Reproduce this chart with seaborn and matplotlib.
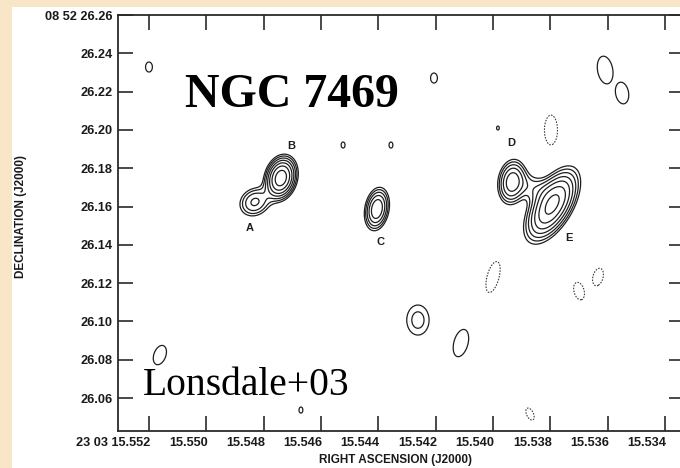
import numpy as np
import pandas as pd
import matplotlib
matplotlib.use("Agg")
import matplotlib.pyplot as plt
from matplotlib.patches import Rectangle
from matplotlib.transforms import ScaledTranslation
import seaborn as sns

# ---------------- data ----------------
# Components of the radio map (RA in s of 23 03, Dec in arcsec of 08 52)
comp_name = ["B", "A", "C", "D", "E", "bridgeDE",
             "p1", "p2", "p3", "p4", "p5", "p6", "p7",
             "n1", "n2", "n3", "n4", "n5",
             "t1", "t2", "t3", "t4"]
comp_ra = [15.54740, 15.54831, 15.54405, 15.53934, 15.53794, 15.53860,
           15.55200, 15.54206, 15.53609, 15.53550, 15.55162, 15.54262, 15.54112,
           15.53798, 15.54000, 15.53700, 15.53634, 15.53871,
           15.54523, 15.54356, 15.53983, 15.54670]
comp_dec = [26.17488, 26.16235, 26.15870, 26.17280, 26.16078, 26.16966,
            26.23285, 26.22710, 26.23128, 26.21927, 26.08245, 26.10073, 26.08872,
            26.19995, 26.12319, 26.11587, 26.12319, 26.05164,
            26.19211, 26.19211, 26.20099, 26.05373]
comp_amp = [12.0, 3.3, 6.2, 5.5, 10.5, 1.6,
            1.4, 1.4, 1.4, 1.4, 1.4, 1.7, 1.4,
            -1.4, -1.4, -1.4, -1.4, -1.4,
            1.4, 1.4, 1.4, 1.4]
comp_smaj = [5.7, 5.2, 6.0, 6.4, 10.5, 7.3,
             2.8, 2.8, 7.8, 6.1, 5.6, 7.6, 7.8,
             8.3, 8.9, 5.0, 5.0, 3.6,
             1.7, 1.7, 1.1, 1.7]          # mas
comp_smin = [3.9, 4.4, 3.3, 3.9, 5.0, 4.7,
             1.9, 1.9, 4.2, 3.6, 3.3, 5.6, 3.9,
             3.6, 3.3, 2.8, 2.8, 1.9,
             1.1, 1.1, 0.8, 1.1]          # mas
comp_pa = [-15, -55, -10, -8, -30, 64,
           0, 0, 10, 10, -20, 0, -15,
           0, -15, 15, -15, 25,
           0, 0, 0, 0]                     # deg, east of north
comp_expo = [1, 1, 1, 1, 1, 1,
             3, 3, 3, 3, 3, 1, 3,
             3, 3, 3, 3, 3,
             3, 3, 3, 3]                   # profile exponent (1 = Gaussian)

pos_levels = [1.0, 1.45, 2.1, 3.05, 4.4, 6.4, 9.3]
neg_levels = [-1.0]

src_labels = ["A", "B", "C", "D", "E"]
src_label_ra = [15.54848, 15.54705, 15.54394, 15.53937, 15.53735]
src_label_dec = [26.14877, 26.19159, 26.14146, 26.19316, 26.14355]

xticks = [15.552, 15.550, 15.548, 15.546, 15.544, 15.542, 15.540, 15.538, 15.536, 15.534]
xticklabels = ["23 03 15.552", "15.550", "15.548", "15.546", "15.544", "15.542",
               "15.540", "15.538", "15.536", "15.534"]
yticks = [26.06, 26.08, 26.10, 26.12, 26.14, 26.16, 26.18, 26.20, 26.22, 26.24, 26.26]
yticklabels = ["26.06", "26.08", "26.10", "26.12", "26.14", "26.16", "26.18",
               "26.20", "26.22", "26.24", "08 52 26.26"]

comps = pd.DataFrame(dict(name=comp_name, ra=comp_ra, dec=comp_dec, amp=comp_amp,
                          smaj=comp_smaj, smin=comp_smin, pa=comp_pa, expo=comp_expo))

# ---------------- style ----------------
sns.set_theme(style="ticks")
plt.rcParams["font.family"] = ["Liberation Sans", "DejaVu Sans"]

W, H = 680, 468
fig = plt.figure(figsize=(W / 100, H / 100), dpi=100)
fig.patch.set_facecolor("#f8e6c6")
fig.add_artist(Rectangle((12 / W, 0), 1 - 12 / W, (H - 7) / H, transform=fig.transFigure,
                         facecolor="white", edgecolor="none", zorder=0))

ax = fig.add_axes([118 / W, 37 / H, 566 / W, 416 / H])
ax.set_facecolor("white")

xlim = (15.55308, 15.53334)
ylim = (26.0428, 26.26001)

# field
ra_g = np.linspace(xlim[1], xlim[0], 900)
dec_g = np.linspace(ylim[0], ylim[1], 660)
RA, DEC = np.meshgrid(ra_g, dec_g)
cosd = np.cos(np.deg2rad(8 + 52 / 60 + 26.2 / 3600))
Z = np.zeros_like(RA)
for i in range(len(comps)):
    c = comps.iloc[i]
    dx = (RA - c["ra"]) * 15 * cosd * 1000.0   # mas, east positive
    dy = (DEC - c["dec"]) * 1000.0             # mas, north positive
    t = np.deg2rad(c["pa"])
    u = dx * np.sin(t) + dy * np.cos(t)
    v = dx * np.cos(t) - dy * np.sin(t)
    q = (u / c["smaj"]) ** 2 + (v / c["smin"]) ** 2
    Z += c["amp"] * np.exp(-0.5 * q ** float(c["expo"]))

ax.contour(RA, DEC, Z, levels=pos_levels, colors="#1e1e1e", linewidths=0.9,
           linestyles="solid")
ax.contour(RA, DEC, Z, levels=neg_levels, colors="#3a3a3a", linewidths=0.8,
           linestyles=[(0, (1.4, 1.2))])

for lab, x, y in zip(src_labels, src_label_ra, src_label_dec):
    ax.text(x, y, lab, ha="center", va="center", fontsize=8, fontweight="bold",
            color="#1e1e1e")

ax.set_xlim(*xlim)
ax.set_ylim(*ylim)
ax.set_xticks(xticks)
ax.set_xticklabels(xticklabels)
ax.set_yticks(yticks)
ax.set_yticklabels(yticklabels)
ax.tick_params(axis="both", direction="in", length=11, width=1.2, color="#2a2a2a",
               top=True, right=True, labelsize=9.2, labelcolor="#1a1a1a", pad=4)
shift = ScaledTranslation(1.5 / 100, 0, fig.dpi_scale_trans)
for lab in ax.get_xticklabels():
    lab.set_fontweight("bold")
    lab.set_horizontalalignment("right")
    lab.set_transform(lab.get_transform() + shift)
for lab in ax.get_yticklabels():
    lab.set_fontweight("bold")
for s in ax.spines.values():
    s.set_color("#2a2a2a")
    s.set_linewidth(1.3)

fig.text(395 / W, 1 - 460 / H, "RIGHT ASCENSION (J2000)", ha="center", va="center",
         fontsize=8.5, fontweight="bold", color="#1a1a1a")
fig.text(21 / W, 1 - 217 / H, "DECLINATION (J2000)", ha="center", va="center",
         rotation=90, fontsize=8.5, fontweight="bold", color="#1a1a1a")

fig.text(185 / W, 1 - 107 / H, "NGC 7469", ha="left", va="baseline",
         fontsize=34.5, fontweight="bold", family=["Liberation Serif", "DejaVu Serif"],
         color="black")
fig.text(143 / W, 1 - 395 / H, "Lonsdale+03", ha="left", va="baseline",
         fontsize=28.5, family=["Liberation Serif", "DejaVu Serif"], color="black")

fig.savefig("out.png", dpi=100, facecolor=fig.get_facecolor())
